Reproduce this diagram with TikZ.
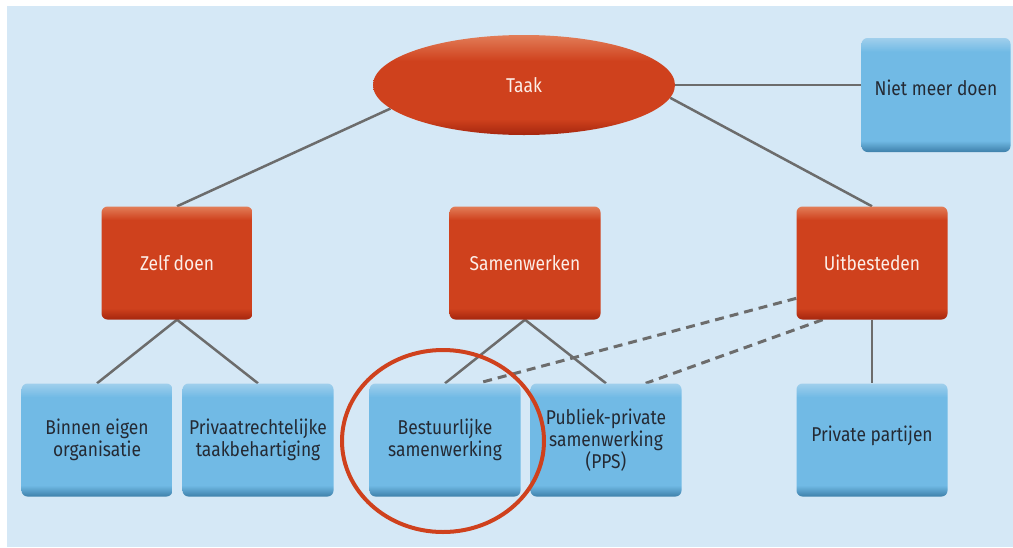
\documentclass[tikz,border=0pt]{standalone}
\usepackage{fontspec}
\setmainfont{Fira Sans}[FakeStretch=0.87]
\usepackage{tikz}
\usetikzlibrary{shapes.geometric,backgrounds}

\definecolor{bgblue}{RGB}{213,232,246}
\definecolor{redmain}{RGB}{207,65,29}
\definecolor{redlight}{RGB}{226,125,88}
\definecolor{reddark}{RGB}{165,38,14}
\definecolor{bluemain}{RGB}{113,186,229}
\definecolor{bluelight}{RGB}{160,207,236}
\definecolor{bluedark}{RGB}{62,128,170}
\definecolor{linegray}{RGB}{108,108,108}
\definecolor{textdark}{RGB}{36,42,52}
\definecolor{textlight}{RGB}{252,238,232}

\pgfdeclareverticalshading{redshade}{100bp}{color(0bp)=(reddark); color(25bp)=(reddark); color(30bp)=(redmain); color(69bp)=(redmain); color(75bp)=(redlight); color(100bp)=(redlight)}
\pgfdeclareverticalshading{blueshade}{100bp}{color(0bp)=(bluedark); color(25bp)=(bluedark); color(30bp)=(bluemain); color(69bp)=(bluemain); color(75bp)=(bluelight); color(100bp)=(bluelight)}
\pgfdeclareverticalshading{ovalshade}{100bp}{color(0bp)=(reddark); color(25bp)=(reddark); color(33bp)=(redmain); color(62bp)=(redmain); color(75bp)=(redlight); color(100bp)=(redlight)}

\begin{document}
\begin{tikzpicture}[x=1pt,y=-1pt,
    every node/.style={font=\fontsize{20}{22}\selectfont, align=center, inner sep=0pt},
    redbox/.style={rectangle, rounded corners=6pt, shading=redshade, text=textlight,
      minimum width=151pt, minimum height=113pt},
    bluebox/.style={rectangle, rounded corners=6pt, shading=blueshade, text=textdark,
      minimum width=151pt, minimum height=113pt},
    link/.style={draw=linegray, line width=2.5pt},
    dashlink/.style={draw=linegray, line width=3pt, dash pattern=on 9pt off 6pt}]
        \useasboundingbox (0,0) rectangle (1013,547);
        \node[ellipse, shading=ovalshade, text=textlight, minimum width=302pt, minimum height=100pt] (taak) at (524,85) {Taak};
        \node[bluebox, minimum width=149pt, minimum height=114pt] (niet) at (936,95) {Niet meer doen\\[-7pt]};
        \node[redbox] (zelf) at (177,263) {Zelf doen};
        \node[redbox] (samen) at (525,263) {Samenwerken};
        \node[redbox] (uit) at (872,263) {Uitbesteden};
        \node[bluebox] (binnen) at (97,440) {Binnen eigen\\organisatie};
        \node[bluebox] (privaat) at (258,440) {Privaatrechtelijke\\taakbehartiging};
        \node[bluebox] (bestuur) at (445,440) {Bestuurlijke\\samenwerking};
        \node[bluebox] (pps) at (606,440) {Publiek-private\\samenwerking\\(PPS)};
        \node[bluebox] (partij) at (872,440) {Private partijen\\[-10pt]};
        \begin{pgfonlayer}{background}
        \fill[bgblue] (7,6) rectangle (1013,547);
        \draw[link] (taak.190) -- (zelf.north);
        \draw[link] (taak.355) -- (uit.north);
        \draw[link] (taak.east) -- (taak.east -| niet.west);
        \draw[link] (zelf.south) -- (binnen.north);
        \draw[link] (zelf.south) -- (privaat.north);
        \draw[link] (samen.south) -- (bestuur.north);
        \draw[link] (samen.south) -- (pps.north);
        \draw[link] (uit.south) -- (partij.north);
        \draw[dashlink] (uit.205) -- (bestuur.60);
        \draw[dashlink] (uit.229) -- (pps.55);
        \end{pgfonlayer}
        \draw[draw=redmain, line width=4pt] (443,441) ellipse [x radius=101pt, y radius=91pt];
\end{tikzpicture}
\end{document}
